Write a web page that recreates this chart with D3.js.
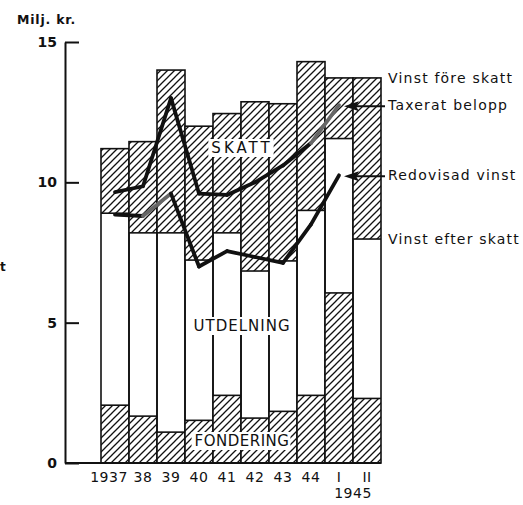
<!DOCTYPE html>
<head>
  <meta charset="utf-8">
  <script src="https://d3js.org/d3.v7.min.js"></script>
<style>
    body {
        margin: 0;
        background: #fff;
    }
    text {
        font-family: "DejaVu Sans", sans-serif;
        font-weight: bold;
        fill: #111;
    }
    .tick line {
        stroke: #111;
        stroke-width: 2px;
    }
    .domain {
        stroke: #111;
        stroke-width: 2px;
    }
</style>
</head>

<body>
  <script>

var width = 523;
var height = 505;

// periods (1945 split in two halves)
var periods = ["1937", "38", "39", "40", "41", "42", "43", "44", "I", "II"];
// Vinst före skatt (total bar height)
var vinstForeSkatt = [11.2, 11.45, 14.0, 12.0, 12.45, 12.87, 12.8, 14.3, 13.72, 13.72];
// Vinst efter skatt (top of white part)
var vinstEfterSkatt = [8.9, 8.2, 8.2, 7.23, 8.2, 6.84, 7.2, 9.0, 11.56, 7.98];
// Fondering (lower hatched part)
var fondering = [2.06, 1.67, 1.1, 1.52, 2.41, 1.6, 1.84, 2.41, 6.06, 2.3];
// lines
var taxeratBelopp = [9.65, 9.86, 13.0, 9.6, 9.55, 10.0, 10.6, 11.4, 12.75];
var redovisadVinst = [8.85, 8.8, 9.6, 7.0, 7.55, 7.34, 7.13, 8.5, 10.25];
var yTicks = [0, 5, 10, 15];

var svg = d3.select("body")
    .append("svg")
    .attr("width", width)
    .attr("height", height);

var defs = svg.append("defs");
var pat = defs.append("pattern")
    .attr("id", "hatch")
    .attr("patternUnits", "userSpaceOnUse")
    .attr("width", 7)
    .attr("height", 7);
pat.append("rect").attr("width", 7).attr("height", 7).attr("fill", "#fff");
pat.append("path")
    .attr("d", "M-1,8 L8,-1 M-2,2 L2,-2 M5,9 L9,5")
    .attr("stroke", "#111")
    .attr("stroke-width", 1.3);

var x = d3.scaleBand()
    .domain(periods)
    .range([101, 381])
    .padding(0);

var y = d3.scaleLinear()
    .domain([0, 15])
    .range([463, 42]);

var data = periods.map(function (p, i) {
    return {
        p: p,
        fore: vinstForeSkatt[i],
        efter: vinstEfterSkatt[i],
        fond: fondering[i]
    };
});

var bars = svg.append("g").selectAll("g")
    .data(data)
    .enter()
    .append("g");

// skatt part
bars.append("rect")
    .attr("x", function (d) { return x(d.p); })
    .attr("width", x.bandwidth())
    .attr("y", function (d) { return y(d.fore); })
    .attr("height", function (d) { return y(d.efter) - y(d.fore); })
    .attr("fill", "url(#hatch)");

// fondering part
bars.append("rect")
    .attr("x", function (d) { return x(d.p); })
    .attr("width", x.bandwidth())
    .attr("y", function (d) { return y(d.fond); })
    .attr("height", function (d) { return y(0) - y(d.fond); })
    .attr("fill", "url(#hatch)");

// outline
bars.append("rect")
    .attr("x", function (d) { return x(d.p); })
    .attr("width", x.bandwidth())
    .attr("y", function (d) { return y(d.fore); })
    .attr("height", function (d) { return y(0) - y(d.fore); })
    .attr("fill", "none")
    .attr("stroke", "#111")
    .attr("stroke-width", 1.6);

bars.append("line")
    .attr("x1", function (d) { return x(d.p); })
    .attr("x2", function (d) { return x(d.p) + x.bandwidth(); })
    .attr("y1", function (d) { return y(d.efter); })
    .attr("y2", function (d) { return y(d.efter); })
    .attr("stroke", "#111")
    .attr("stroke-width", 1.6);

bars.append("line")
    .attr("x1", function (d) { return x(d.p); })
    .attr("x2", function (d) { return x(d.p) + x.bandwidth(); })
    .attr("y1", function (d) { return y(d.fond); })
    .attr("y2", function (d) { return y(d.fond); })
    .attr("stroke", "#111")
    .attr("stroke-width", 1.6);

// region labels with white boxes
function boxLabel(txt, cx, cy, spacing) {
    var t = svg.append("text")
        .attr("x", cx)
        .attr("y", cy)
        .attr("text-anchor", "middle")
        .attr("dominant-baseline", "central")
        .style("font-size", "15px")
        .style("font-weight", "normal")
        .style("letter-spacing", spacing + "px")
        .text(txt);
    var b = t.node().getBBox();
    svg.insert("rect", function () { return t.node(); })
        .attr("x", b.x - 3)
        .attr("y", b.y)
        .attr("width", b.width + 4)
        .attr("height", b.height)
        .attr("fill", "#fff");
}
boxLabel("SKATT", 242, 148, 3);
boxLabel("UTDELNING", 242, 326, 1);
boxLabel("FONDERING", 242, 441, 0.5);

// lines
function drawLine(vals, graySeg) {
    for (var i = 0; i < vals.length - 1; i++) {
        svg.append("line")
            .attr("x1", x(periods[i]) + x.bandwidth() / 2)
            .attr("y1", y(vals[i]))
            .attr("x2", x(periods[i + 1]) + x.bandwidth() / 2)
            .attr("y2", y(vals[i + 1]))
            .attr("stroke", graySeg.indexOf(i) >= 0 ? "#666" : "#111")
            .attr("stroke-width", 3.8)
            .attr("stroke-linecap", "round");
    }
}
drawLine(taxeratBelopp, [7]);
drawLine(redovisadVinst, [1]);

// axes
var yAxis = d3.axisLeft(y)
    .tickValues(yTicks)
    .tickSizeInner(-14)
    .tickSizeOuter(0)
    .tickPadding(8);

var gy = svg.append("g")
    .attr("transform", "translate(65,0)")
    .call(yAxis);
gy.selectAll("text")
    .style("font-size", "14px")
    .attr("fill", "#111");

svg.append("line")
    .attr("x1", 65)
    .attr("x2", 381)
    .attr("y1", y(0))
    .attr("y2", y(0))
    .attr("stroke", "#111")
    .attr("stroke-width", 2);

var xAxis = d3.axisBottom(x)
    .tickSize(0)
    .tickPadding(9);
var gx = svg.append("g")
    .attr("transform", "translate(0," + y(0) + ")")
    .call(xAxis);
gx.select(".domain").remove();
gx.selectAll("text")
    .style("font-size", "14px")
    .style("font-weight", "normal")
    .style("letter-spacing", "0.5px")
    .attr("fill", "#111")
    .attr("dx", function (d, i) { return i === 0 ? -6 : 0; });

svg.append("text")
    .attr("x", x("I") + x.bandwidth())
    .attr("y", 498)
    .attr("text-anchor", "middle")
    .style("font-size", "14px")
    .style("font-weight", "normal")
    .style("letter-spacing", "0.5px")
    .text("1945");

svg.append("text")
    .attr("x", 17)
    .attr("y", 24)
    .style("font-size", "12.5px")
    .style("letter-spacing", "0.8px")
    .text("Milj. kr.");

svg.append("text")
    .attr("x", 0)
    .attr("y", 271)
    .style("font-size", "12px")
    .text("t");

// right side labels
var last = periods.length - 1;
var labels = [
    { t: "Vinst före skatt", v: vinstForeSkatt[last], arrow: false },
    { t: "Taxerat belopp", v: taxeratBelopp[taxeratBelopp.length - 1], arrow: true },
    { t: "Redovisad vinst", v: redovisadVinst[redovisadVinst.length - 1], arrow: true },
    { t: "Vinst efter skatt", v: vinstEfterSkatt[last], arrow: false }
];

labels.forEach(function (l) {
    svg.append("text")
        .attr("x", 388)
        .attr("y", y(l.v))
        .attr("dominant-baseline", "central")
        .style("font-size", "14px")
        .style("font-weight", "normal")
        .style("letter-spacing", "1.2px")
        .text(l.t);
    if (l.arrow) {
        var ay = y(l.v) + 1;
        svg.append("line")
            .attr("x1", 385)
            .attr("x2", 352)
            .attr("y1", ay)
            .attr("y2", ay)
            .attr("stroke", "#111")
            .attr("stroke-width", 2);
        svg.append("path")
            .attr("d", "M344," + ay + " L359," + (ay - 5) + " L356," + ay + " L359," + (ay + 5) + " Z")
            .attr("fill", "#111");
    }
});

  </script>
</body>
